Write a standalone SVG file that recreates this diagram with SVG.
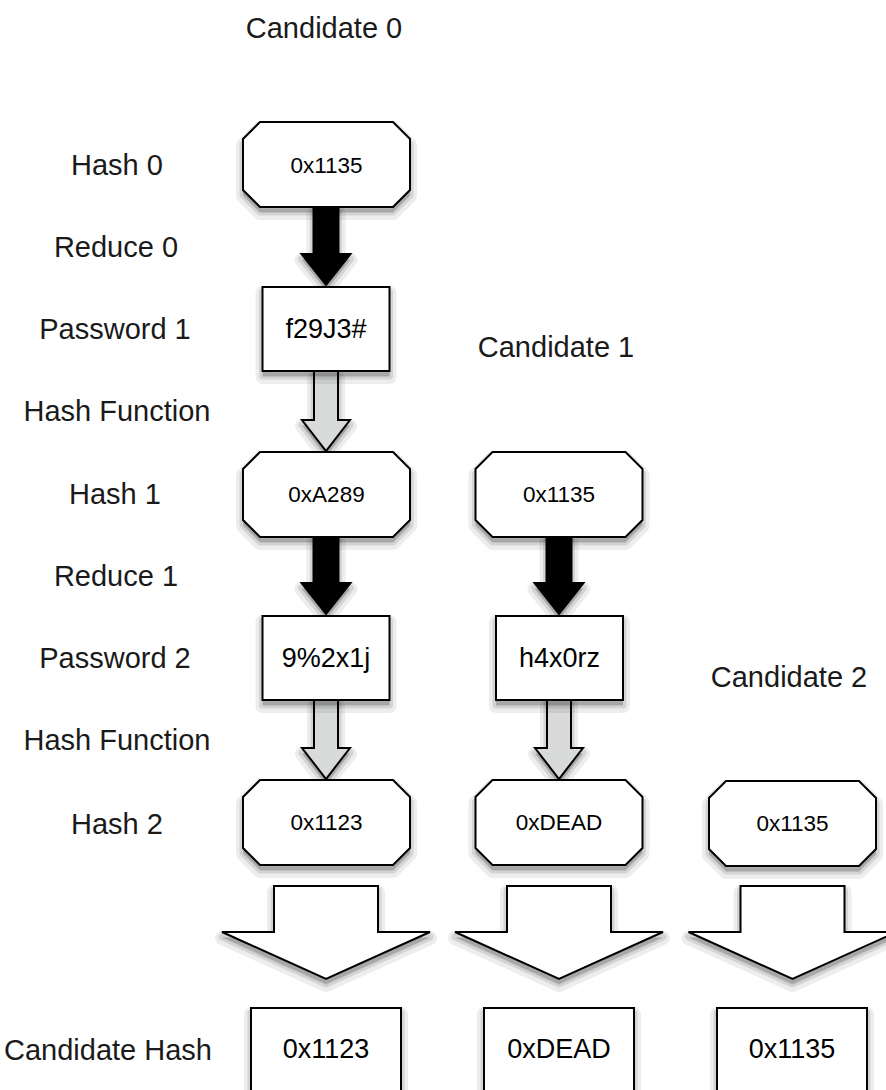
<svg xmlns="http://www.w3.org/2000/svg" xmlns:xlink="http://www.w3.org/1999/xlink" width="886" height="1090" viewBox="0 0 886 1090">
<defs>
<polygon id="oct" points="17,0 150,0 167,17 167,68 150,85 17,85 0,68 0,17"/>
<rect id="box" x="0" y="0" width="127" height="84"/>
<rect id="cbox" x="0" y="0" width="150" height="100"/>
<polygon id="blkA" points="-12.5,0 12.5,0 12.5,47 24.5,47 0,78 -24.5,47 -12.5,47"/>
<polygon id="gryA" points="-12,0 12,0 12,49 24,49 0,80 -24,49 -12,49"/>
<polygon id="bigA" points="-52,0 52,0 52,46 104,46 0,93 -104,46 -52,46"/>
</defs>
<style>
.lbl{font-family:"Liberation Sans",Arial,sans-serif;font-size:29px;fill:#1a1a1a;text-anchor:middle}
.ot{font-family:"Liberation Sans",Arial,sans-serif;font-size:22.5px;fill:#000;text-anchor:middle}
.bt{font-family:"Liberation Sans",Arial,sans-serif;font-size:27px;fill:#000;text-anchor:middle}
.shape{fill:#fff;stroke:#000;stroke-width:2;stroke-linejoin:miter}
.blk{fill:#000;stroke:#000;stroke-width:2}
.gry{fill:#d9dbdb;stroke:#000;stroke-width:2}
.s1{fill:#000;fill-opacity:0.1;stroke:#000;stroke-opacity:0.07;stroke-width:14;stroke-linejoin:round}
.s2{fill:#000;fill-opacity:0.12;stroke:#000;stroke-opacity:0.1;stroke-width:7;stroke-linejoin:round}
</style>
<rect width="886" height="1090" fill="#fff"/>

<g id="labels">
<text class="lbl" x="324" y="38">Candidate 0</text>
<text class="lbl" x="556" y="357">Candidate 1</text>
<text class="lbl" x="789" y="687">Candidate 2</text>
<text class="lbl" x="117" y="175">Hash 0</text>
<text class="lbl" x="116" y="257">Reduce 0</text>
<text class="lbl" x="115" y="339">Password 1</text>
<text class="lbl" x="117" y="421">Hash Function</text>
<text class="lbl" x="115" y="504">Hash 1</text>
<text class="lbl" x="116" y="586">Reduce 1</text>
<text class="lbl" x="115" y="668">Password 2</text>
<text class="lbl" x="117" y="750">Hash Function</text>
<text class="lbl" x="117" y="834">Hash 2</text>
<text class="lbl" x="108" y="1060">Candidate Hash</text>
</g>

<g id="connectors">
<g transform="translate(326,207)"><use xlink:href="#blkA" class="s1" y="6"/><use xlink:href="#blkA" class="s2" y="5"/><use xlink:href="#blkA" class="blk"/></g>
<g transform="translate(326,371)"><use xlink:href="#gryA" class="s1" y="6"/><use xlink:href="#gryA" class="s2" y="5"/><use xlink:href="#gryA" class="gry"/></g>
<g transform="translate(326,536)"><use xlink:href="#blkA" class="s1" y="6"/><use xlink:href="#blkA" class="s2" y="5"/><use xlink:href="#blkA" class="blk"/></g>
<g transform="translate(326,699)"><use xlink:href="#gryA" class="s1" y="6"/><use xlink:href="#gryA" class="s2" y="5"/><use xlink:href="#gryA" class="gry"/></g>
<g transform="translate(559,536)"><use xlink:href="#blkA" class="s1" y="6"/><use xlink:href="#blkA" class="s2" y="5"/><use xlink:href="#blkA" class="blk"/></g>
<g transform="translate(559,699)"><use xlink:href="#gryA" class="s1" y="6"/><use xlink:href="#gryA" class="s2" y="5"/><use xlink:href="#gryA" class="gry"/></g>
<g transform="translate(326,886)"><use xlink:href="#bigA" class="s1" y="6"/><use xlink:href="#bigA" class="s2" y="5"/><use xlink:href="#bigA" class="shape"/></g>
<g transform="translate(559,886)"><use xlink:href="#bigA" class="s1" y="6"/><use xlink:href="#bigA" class="s2" y="5"/><use xlink:href="#bigA" class="shape"/></g>
<g transform="translate(792.5,886)"><use xlink:href="#bigA" class="s1" y="6"/><use xlink:href="#bigA" class="s2" y="5"/><use xlink:href="#bigA" class="shape"/></g>
</g>

<g id="hash0" transform="translate(243,122)">
<use xlink:href="#oct" class="s1" y="6"/><use xlink:href="#oct" class="s2" y="5"/><use xlink:href="#oct" class="shape"/>
<text class="ot" x="83.5" y="51">0x1135</text>
</g>
<g id="pw1" transform="translate(262.5,287)">
<use xlink:href="#box" class="s1" y="6"/><use xlink:href="#box" class="s2" y="5"/><use xlink:href="#box" class="shape"/>
<text class="bt" x="63.5" y="51">f29J3#</text>
</g>
<g id="hash1" transform="translate(243,452)">
<use xlink:href="#oct" class="s1" y="6"/><use xlink:href="#oct" class="s2" y="5"/><use xlink:href="#oct" class="shape"/>
<text class="ot" x="83.5" y="50">0xA289</text>
</g>
<g id="pw2" transform="translate(262.5,616)">
<use xlink:href="#box" class="s1" y="6"/><use xlink:href="#box" class="s2" y="5"/><use xlink:href="#box" class="shape"/>
<text class="bt" x="63.5" y="51">9%2x1j</text>
</g>
<g id="hash2" transform="translate(243,780)">
<use xlink:href="#oct" class="s1" y="6"/><use xlink:href="#oct" class="s2" y="5"/><use xlink:href="#oct" class="shape"/>
<text class="ot" x="83.5" y="50">0x1123</text>
</g>

<g id="c1hash1" transform="translate(475.5,452)">
<use xlink:href="#oct" class="s1" y="6"/><use xlink:href="#oct" class="s2" y="5"/><use xlink:href="#oct" class="shape"/>
<text class="ot" x="83.5" y="50">0x1135</text>
</g>
<g id="c1pw2" transform="translate(496,616)">
<use xlink:href="#box" class="s1" y="6"/><use xlink:href="#box" class="s2" y="5"/><use xlink:href="#box" class="shape"/>
<text class="bt" x="63.5" y="51">h4x0rz</text>
</g>
<g id="c1hash2" transform="translate(475.5,780)">
<use xlink:href="#oct" class="s1" y="6"/><use xlink:href="#oct" class="s2" y="5"/><use xlink:href="#oct" class="shape"/>
<text class="ot" x="83.5" y="50">0xDEAD</text>
</g>

<g id="c2hash2" transform="translate(709,781)">
<use xlink:href="#oct" class="s1" y="6"/><use xlink:href="#oct" class="s2" y="5"/><use xlink:href="#oct" class="shape"/>
<text class="ot" x="83.5" y="50">0x1135</text>
</g>

<g id="cand0" transform="translate(251,1008)">
<use xlink:href="#cbox" class="s1" y="6"/><use xlink:href="#cbox" class="s2" y="5"/><use xlink:href="#cbox" class="shape"/>
<text class="bt" x="75" y="50">0x1123</text>
</g>
<g id="cand1" transform="translate(484,1008)">
<use xlink:href="#cbox" class="s1" y="6"/><use xlink:href="#cbox" class="s2" y="5"/><use xlink:href="#cbox" class="shape"/>
<text class="bt" x="75" y="50">0xDEAD</text>
</g>
<g id="cand2" transform="translate(717,1008)">
<use xlink:href="#cbox" class="s1" y="6"/><use xlink:href="#cbox" class="s2" y="5"/><use xlink:href="#cbox" class="shape"/>
<text class="bt" x="75" y="50">0x1135</text>
</g>
</svg>
